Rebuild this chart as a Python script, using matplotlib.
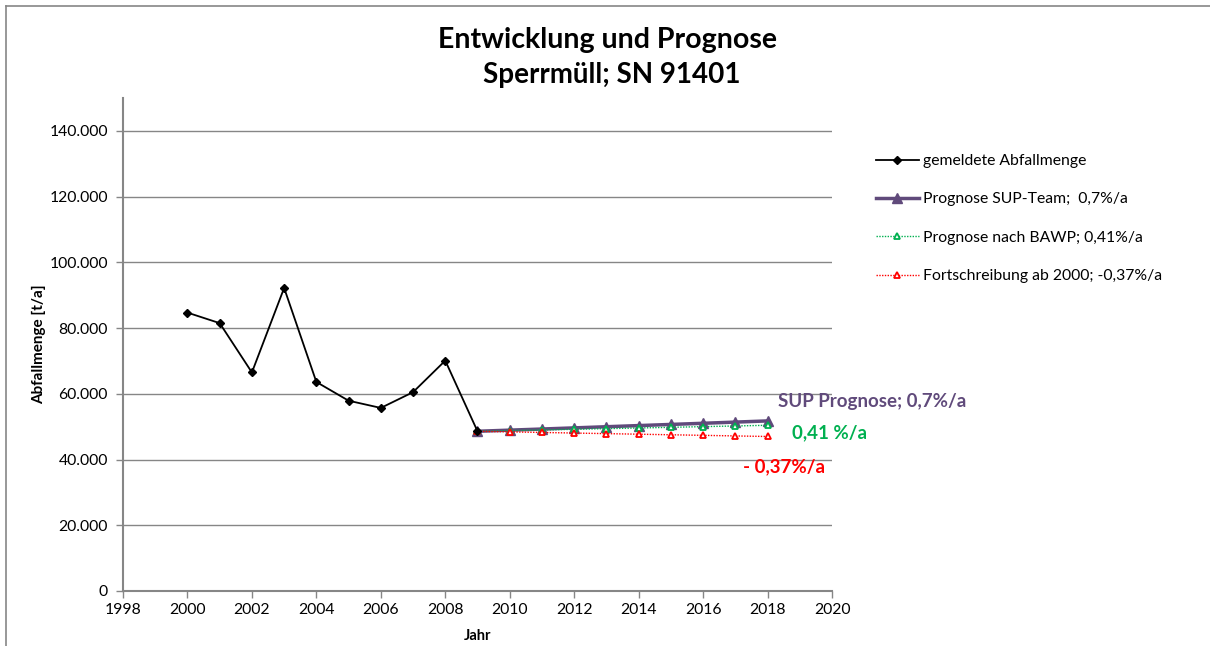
import matplotlib.pyplot as plt
from matplotlib.lines import Line2D
from matplotlib.ticker import FuncFormatter

plt.rcParams['font.family'] = ['Lato', 'DejaVu Sans']

# gemeldete Abfallmenge
jahre = [2000, 2001, 2002, 2003, 2004, 2005, 2006, 2007, 2008, 2009]
menge = [84700, 81500, 66500, 92200, 63600, 57900, 55700, 60500, 70100, 48600]

# Prognosen ab 2009
jahre_prog = [2009, 2010, 2011, 2012, 2013, 2014, 2015, 2016, 2017, 2018]
sup = [48600, 48940, 49280, 49630, 49980, 50330, 50680, 51030, 51390, 51750]
bawp = [48600, 48800, 49000, 49200, 49400, 49600, 49800, 50010, 50210, 50420]
fort = [48600, 48420, 48240, 48060, 47880, 47710, 47530, 47360, 47180, 47010]

grau = '#868686'
lila = '#604A7B'
gruen = '#00B050'
rot = '#FF0000'

fig = plt.figure(figsize=(12.1, 6.46), dpi=100)
ax = fig.add_axes([123/1210, 1 - 591/646, (832-123)/1210, (591-98)/646])

ax.plot(jahre, menge, color='black', lw=1.3, marker='D', ms=4, label='gemeldete Abfallmenge', zorder=5)
ax.plot(jahre_prog, sup, color=lila, lw=2.5, marker='^', ms=7, label='Prognose SUP-Team;  0,7%/a', zorder=3)
ax.plot(jahre_prog, bawp, color=gruen, lw=1, ls=(0, (1, 1)), marker='^', ms=5, mfc='white', mec=gruen,
        mew=1.3, label='Prognose nach BAWP; 0,41%/a', zorder=4)
ax.plot(jahre_prog, fort, color=rot, lw=1, ls=(0, (1, 1)), marker='^', ms=5, mfc='white', mec=rot,
        mew=1.3, label='Fortschreibung ab 2000; -0,37%/a', zorder=4)

ax.set_xlim(1998, 2020)
ax.set_ylim(0, 150000)
ax.set_xticks(range(1998, 2021, 2))
ax.set_yticks(range(0, 140001, 20000))
ax.yaxis.set_major_formatter(FuncFormatter(lambda v, p: f'{int(v):,}'.replace(',', '.')))
ax.grid(axis='y', color=grau, lw=1)
ax.set_axisbelow(True)
for s in ['top', 'right']:
    ax.spines[s].set_visible(False)
for s in ['left', 'bottom']:
    ax.spines[s].set_color(grau)
    ax.spines[s].set_linewidth(1.5)
ax.tick_params(axis='both', colors=grau, length=5, width=1, labelsize=11.3, labelcolor='black')
ax.tick_params(axis='y', pad=6)

ax.set_xlabel('Jahr', fontsize=10.5, fontweight='bold', labelpad=9)
ax.set_ylabel('Abfallmenge [t/a]', fontsize=11, fontweight='bold')
ax.yaxis.set_label_coords(-0.108, 0.5)

fig.text(608/1210, 1 - 40/646, 'Entwicklung und Prognose', ha='center', va='center',
         fontsize=20.5, fontweight='bold')
fig.text(612/1210, 1 - 75/646, 'Sperrmüll; SN 91401', ha='center', va='center',
         fontsize=20, fontweight='bold')

ax.legend(loc='upper left', bbox_to_anchor=(862/1210, 1 - 140/646), bbox_transform=fig.transFigure,
          frameon=False, fontsize=11.3, labelspacing=1.55, handlelength=2.7, handletextpad=0.3)

fig.text(778/1210, 1 - 401/646, 'SUP Prognose; 0,7%/a', color=lila, fontsize=13.5, fontweight='bold',
         va='center', ha='left')
fig.text(792/1210, 1 - 433/646, '0,41 %/a', color=gruen, fontsize=13.5, fontweight='bold',
         va='center', ha='left')
fig.text(743/1210, 1 - 467/646, '- 0,37%/a', color=rot, fontsize=13.5, fontweight='bold',
         va='center', ha='left')

# Rahmen
fig.add_artist(Line2D([6/1210, 6/1210], [0, 1 - 6/646], transform=fig.transFigure, color=grau, lw=1.2))
fig.add_artist(Line2D([6/1210, 1], [1 - 6/646, 1 - 6/646], transform=fig.transFigure, color=grau, lw=1.2))

fig.savefig('out.png', dpi=100)
